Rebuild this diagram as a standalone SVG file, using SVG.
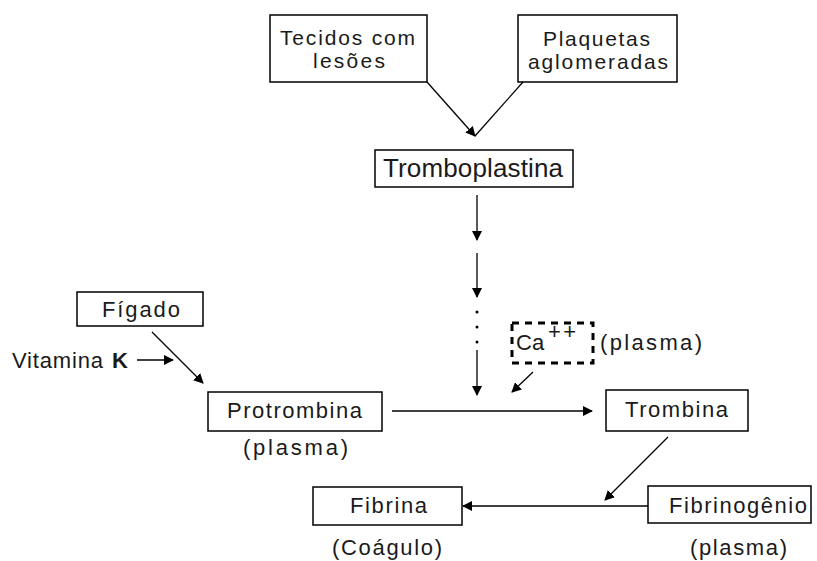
<svg xmlns="http://www.w3.org/2000/svg" width="817" height="561" viewBox="0 0 817 561">
<style>
.box{fill:#fff;stroke:#000;stroke-width:1.5}
.dash{fill:none;stroke:#000;stroke-width:3;stroke-dasharray:7,6}
text{font-family:"Liberation Sans",Arial,sans-serif;font-size:22px;fill:#1a1a1a}
.two{font-size:21px}
.big{font-size:26px}
.c{stroke:#000;stroke-width:1.3;fill:none}
</style>
<defs>
<marker id="ah" viewBox="0 0 10 10" refX="9" refY="5" markerWidth="10" markerHeight="10" markerUnits="userSpaceOnUse" orient="auto">
<path d="M0,0 L10,5 L0,10 Z" fill="#000"/>
</marker>
</defs>
<rect width="817" height="561" fill="#fff"/>
<g id="tecidos"><rect class="box" x="270" y="15" width="157" height="67"/><text class="two" x="280" y="45" textLength="135" lengthAdjust="spacing">Tecidos com</text><text class="two" x="313" y="68" textLength="72" lengthAdjust="spacing">lesões</text></g>
<g id="plaquetas"><rect class="box" x="518" y="15" width="159" height="67"/><text class="two" x="543" y="46" textLength="107" lengthAdjust="spacing">Plaquetas</text><text class="two" x="528" y="69" textLength="140" lengthAdjust="spacing">aglomeradas</text></g>
<g id="tromboplastina"><rect class="box" x="375" y="150" width="198" height="37"/><text class="big" x="383" y="177" textLength="180" lengthAdjust="spacing">Tromboplastina</text></g>
<g id="figado"><rect class="box" x="77" y="292" width="126" height="34"/><text x="102" y="317" textLength="78" lengthAdjust="spacing">Fígado</text></g>
<g id="vitamina"><text x="12" y="368" textLength="91" lengthAdjust="spacing">Vitamina</text><text x="112" y="368" font-weight="bold">K</text></g>
<g id="protrombina"><rect class="box" x="208" y="392" width="174" height="39"/><text x="227" y="418" textLength="135" lengthAdjust="spacing">Protrombina</text><text x="243" y="455" textLength="105" lengthAdjust="spacing">(plasma)</text></g>
<g id="calcio"><rect class="dash" x="512" y="323" width="81" height="40"/><text x="516" y="350" font-size="24">Ca</text><text x="548" y="339" font-size="19" textLength="28" lengthAdjust="spacing">++</text><text x="600" y="350" textLength="102" lengthAdjust="spacing">(plasma)</text></g>
<g id="trombina"><rect class="box" x="606" y="390" width="142" height="41"/><text x="625" y="417" textLength="103" lengthAdjust="spacing">Trombina</text></g>
<g id="fibrina"><rect class="box" x="313" y="487" width="149" height="38"/><text x="350" y="513" textLength="77" lengthAdjust="spacing">Fibrina</text><text x="332" y="555" textLength="110" lengthAdjust="spacing">(Coágulo)</text></g>
<g id="fibrinogenio"><rect class="box" x="648" y="486" width="163" height="37"/><text x="669" y="513" textLength="138" lengthAdjust="spacing">Fibrinogênio</text><text x="690" y="555" textLength="97" lengthAdjust="spacing">(plasma)</text></g>
<g id="connectors">
<line class="c" x1="427" y1="82" x2="475" y2="136" marker-end="url(#ah)"/>
<line class="c" x1="523" y1="82" x2="475" y2="136"/>
<line class="c" x1="477" y1="195" x2="477" y2="240" marker-end="url(#ah)"/>
<line class="c" x1="477" y1="253" x2="477" y2="297" marker-end="url(#ah)"/>
<circle cx="477" cy="312" r="1.5" fill="#000"/>
<circle cx="477" cy="327" r="1.5" fill="#000"/>
<circle cx="477" cy="342" r="1.5" fill="#000"/>
<line class="c" x1="477" y1="350" x2="477" y2="395" marker-end="url(#ah)"/>
<line class="c" x1="533" y1="372" x2="512" y2="392" marker-end="url(#ah)"/>
<line class="c" x1="137" y1="360" x2="173" y2="360" marker-end="url(#ah)"/>
<line class="c" x1="152" y1="332" x2="203" y2="383" marker-end="url(#ah)"/>
<line class="c" x1="392" y1="411" x2="592" y2="411" marker-end="url(#ah)"/>
<line class="c" x1="668" y1="437" x2="605" y2="500" marker-end="url(#ah)"/>
<line class="c" x1="648" y1="506" x2="463" y2="506" marker-end="url(#ah)"/>
</g>
</svg>
